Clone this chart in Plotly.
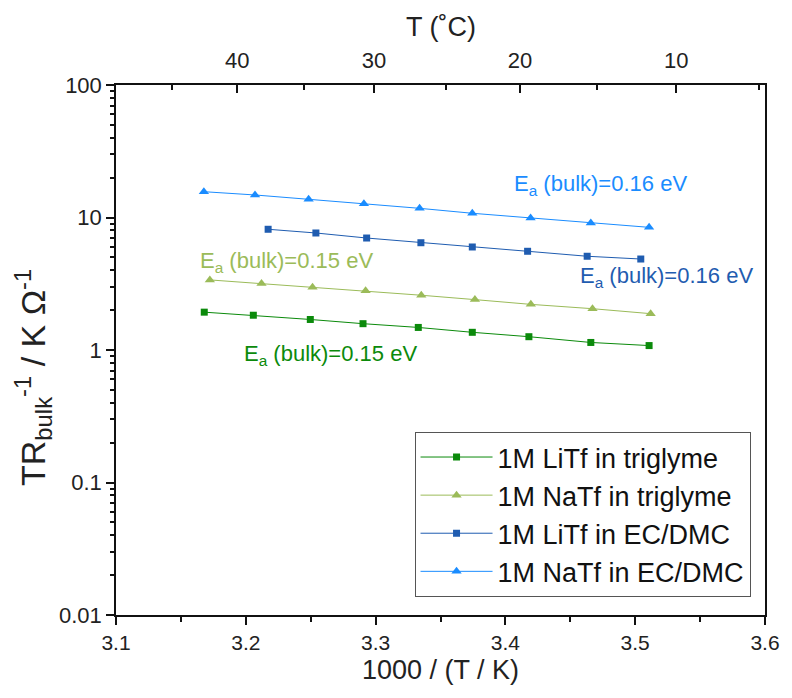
import plotly.graph_objects as go

# --- data ---
x_litf_tri = [3.1680, 3.2058, 3.2497, 3.2903, 3.3329, 3.3745, 3.4181, 3.4658, 3.5107]
y_litf_tri = [1.93, 1.83, 1.70, 1.58, 1.48, 1.36, 1.26, 1.14, 1.08]

x_natf_tri = [3.1723, 3.2121, 3.2514, 3.2923, 3.3352, 3.3765, 3.4196, 3.4671, 3.5119]
y_natf_tri = [3.38, 3.17, 2.97, 2.80, 2.59, 2.40, 2.21, 2.05, 1.88]

x_litf_ec = [3.2172, 3.2540, 3.2931, 3.3349, 3.3745, 3.4171, 3.4630, 3.5043]
y_litf_ec = [8.15, 7.64, 7.00, 6.45, 5.99, 5.56, 5.10, 4.86]

x_natf_ec = [3.1677, 3.2071, 3.2484, 3.2910, 3.3339, 3.3745, 3.4194, 3.4658, 3.5107]
y_natf_ec = [15.66, 14.79, 13.72, 12.72, 11.73, 10.76, 9.91, 9.09, 8.43]

series_names = ["1M LiTf in triglyme", "1M NaTf in triglyme", "1M LiTf in EC/DMC", "1M NaTf in EC/DMC"]
series_colors = ["#0b8a0b", "#9bbb59", "#1f5cb0", "#1a8cff"]
series_symbols = ["square", "triangle-up", "square", "triangle-up"]
series_sizes = [7, 9, 7, 9]

top_major_T = [40, 30, 20, 10]
top_minor_T = [45, 35, 25, 15, 5]

ea_labels = ["E<sub>a</sub> (bulk)=0.16 eV", "E<sub>a</sub> (bulk)=0.16 eV",
             "E<sub>a</sub> (bulk)=0.15 eV", "E<sub>a</sub> (bulk)=0.15 eV"]

x_title = "1000 / (T / K)"
top_title = "T (˚C)"
y_title = "TR<sub>bulk</sub><sup>-1</sup> / K Ω<sup>-1</sup>"

FONT = "Liberation Sans, Arial, sans-serif"

fig = go.Figure()
for xs, ys, name, col, sym, sz in zip(
    [x_litf_tri, x_natf_tri, x_litf_ec, x_natf_ec],
    [y_litf_tri, y_natf_tri, y_litf_ec, y_natf_ec],
    series_names, series_colors, series_symbols, series_sizes):
    fig.add_trace(go.Scatter(x=xs, y=ys, name=name, mode="lines+markers",
                             line=dict(color=col, width=1),
                             marker=dict(symbol=sym, size=sz, color=col)))

# invisible traces to activate top axes
fig.add_trace(go.Scatter(x=[3.1], y=[1], xaxis="x2", yaxis="y", mode="markers",
                         marker=dict(opacity=0), showlegend=False, hoverinfo="skip"))
fig.add_trace(go.Scatter(x=[3.1], y=[1], xaxis="x3", yaxis="y", mode="markers",
                         marker=dict(opacity=0), showlegend=False, hoverinfo="skip"))

tv_major = [1000 / (t + 273.15) for t in top_major_T]
tv_minor = [1000 / (t + 273.15) for t in top_minor_T]

# annotation placement (x data, log10 y) and colours
ann_pos = [(3.4052, 1.245, "#1a8cff"), (3.4562, 0.551, "#1f5cb0"),
           (3.1632, 0.664, "#9bbb59"), (3.1967, -0.038, "#0b8a0b")]
annotations = []
for (ax_, ay_, col), txt in zip(ann_pos, ea_labels):
    annotations.append(dict(x=ax_, y=ay_, xref="x", yref="y", text=txt, showarrow=False,
                            xanchor="left", yanchor="middle",
                            font=dict(family=FONT, size=22, color=col)))

# axis titles as paper annotations for precise placement
annotations.append(dict(x=0.5, y=-0.104, xref="paper", yref="paper", text=x_title,
                        showarrow=False, xanchor="center", yanchor="middle",
                        font=dict(family=FONT, size=27, color="#222")))
annotations.append(dict(x=0.5, y=1.109, xref="paper", yref="paper", text=top_title,
                        showarrow=False, xanchor="center", yanchor="middle",
                        font=dict(family=FONT, size=27, color="#222")))
annotations.append(dict(x=-0.128, y=0.449, xref="paper", yref="paper", text=y_title,
                        showarrow=False, xanchor="center", yanchor="middle", textangle=-90,
                        font=dict(family=FONT, size=34, color="#222")))

fig.update_layout(
    width=792, height=698,
    margin=dict(l=116, r=19, t=85, b=83),
    paper_bgcolor="white", plot_bgcolor="white",
    font=dict(family=FONT, size=22, color="#222"),
    annotations=annotations,
    xaxis=dict(range=[3.1, 3.6], tickvals=[3.1, 3.2, 3.3, 3.4, 3.5, 3.6],
               ticktext=["3.1", "3.2", "3.3", "3.4", "3.5", "3.6"],
               ticks="outside", ticklen=8, tickwidth=1.5, tickcolor="#111",
               ticklabelstandoff=0,
               minor=dict(tickvals=[3.15, 3.25, 3.35, 3.45, 3.55], ticks="outside", ticklen=5,
                          tickcolor="#111", showgrid=False),
               showline=True, linecolor="#111", linewidth=1.5, mirror=True,
               showgrid=False, zeroline=False,
               tickfont=dict(family=FONT, size=21)),
    xaxis2=dict(range=[3.1, 3.6], overlaying="x", side="top", anchor="y",
                tickvals=tv_major, ticktext=[str(t) for t in top_major_T],
                ticks="inside", ticklen=8, tickwidth=1.5, tickcolor="#111",
                ticklabelstandoff=12,
                showgrid=False, zeroline=False, showline=False,
                tickfont=dict(family=FONT, size=22)),
    xaxis3=dict(range=[3.1, 3.6], overlaying="x", side="top", anchor="y",
                tickvals=tv_minor, ticktext=["" for _ in tv_minor],
                ticks="inside", ticklen=5, tickwidth=1.5, tickcolor="#111",
                showgrid=False, zeroline=False, showline=False, showticklabels=False),
    yaxis=dict(type="log", range=[-2, 2],
               tickvals=[0.01, 0.1, 1, 10, 100], ticktext=["0.01", "0.1", "1", "10", "100"],
               ticks="outside", ticklen=8, tickwidth=1.5, tickcolor="#111",
               minor=dict(ticks="outside", ticklen=4, tickcolor="#111", dtick="D1", showgrid=False),
               showline=True, linecolor="#111", linewidth=1.5, mirror=True,
               showgrid=False, zeroline=False,
               tickfont=dict(family=FONT, size=22)),
    legend=dict(x=0.46, y=0.034, xanchor="left", yanchor="bottom",
                bgcolor="white", bordercolor="#555", borderwidth=1,
                font=dict(family=FONT, size=27, color="#111"),
                tracegroupgap=0, itemwidth=72),
    showlegend=True,
)

fig.write_html("out.html")
